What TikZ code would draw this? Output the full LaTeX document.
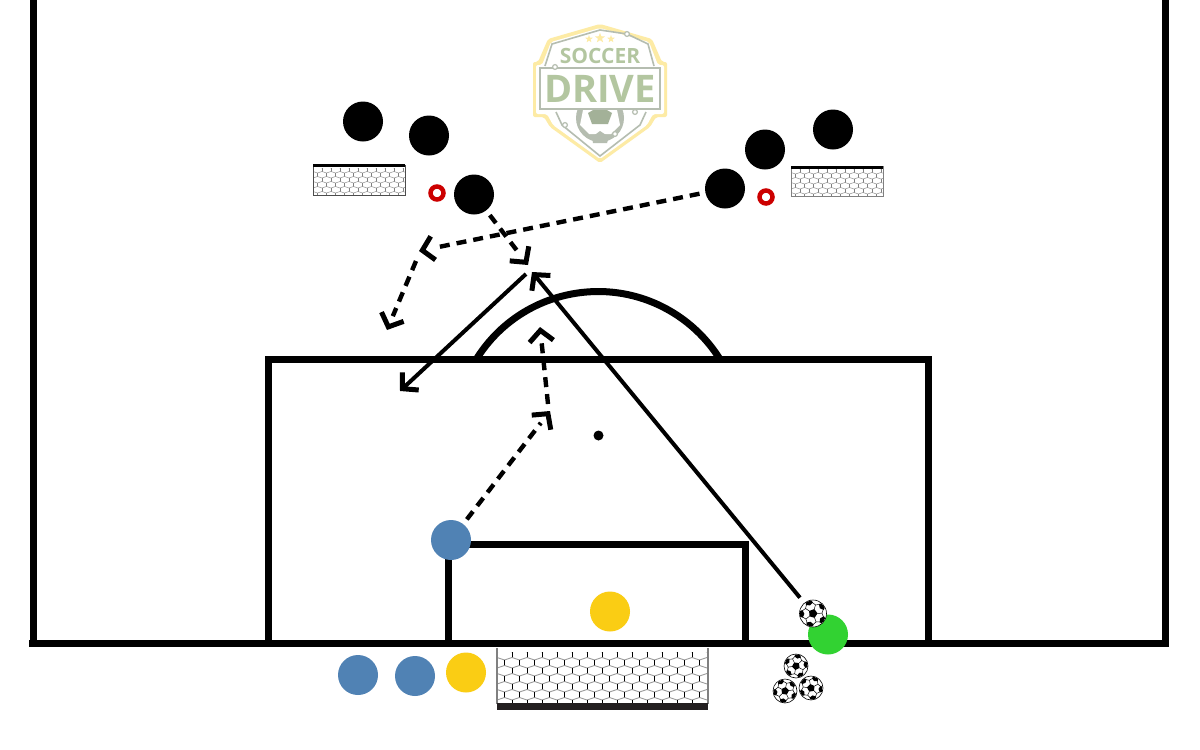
\documentclass[tikz,border=0pt]{standalone}
\usepackage{fontspec}
\setmainfont{Open Sans}
\usetikzlibrary{arrows.meta,shapes.geometric}
\definecolor{playerblue}{HTML}{5082B4}
\definecolor{playeryellow}{HTML}{FACD14}
\definecolor{playergreen}{HTML}{32D232}
\definecolor{conered}{HTML}{CC0000}
\definecolor{logogreen}{HTML}{B3C6A0}
\definecolor{logogray}{HTML}{B5BDB0}
\definecolor{logodark}{HTML}{A3B198}
\definecolor{logoyellow}{HTML}{FDEBA5}
\definecolor{netbar}{HTML}{231F20}
\newcommand{\netmesh}[9]{%x0 y0 x1 y1 px py a width vertical-colour
  \begin{scope}
    \clip (#1,#2) rectangle (#3,#4);
    \pgfmathsetmacro{\nx}{int((#3-#1)/#5)+1}
    \pgfmathsetmacro{\ny}{int((#4-#2)/#6)+1}
    \foreach \r in {0,...,\ny}{
      \foreach \c in {0,...,\nx}{
        \pgfmathsetmacro{\X}{#1+\c*#5-mod(\r,2)*#5/2}
        \pgfmathsetmacro{\Y}{#2+\r*#6}
        \draw[gray!80!white,line width=#8] (\X-#5/2,\Y-#7) -- (\X,\Y) -- (\X+#5/2,\Y-#7);
        \draw[#9,line width=#8] (\X,\Y) -- (\X,\Y+#6-#7);
      }
    }
  \end{scope}}
\newcommand{\dashrun}[2]{%
  \draw[dashline] (#1) -- (#2);
  \path[chevrononly] (#1) -- (#2);}
\tikzset{
  player/.style={circle,minimum size=40,inner sep=0,outer sep=6,fill=#1},
  balldisc/.style={circle,minimum size=#1,inner sep=0,outer sep=7,fill=white,draw=black,line width=.6},
  fieldline/.style={line width=7,black,line cap=butt,line join=miter},
  chevron/.style={-{Straight Barb[length=11,width=24,line width=5,line join=miter,line cap=butt]}},
  solidpass/.style={line width=4,black,chevron},
  dashline/.style={line width=4.4,black,dash pattern=on 10 off 7,shorten >=15},
  chevrononly/.style={draw=black,line width=4,dash pattern=on 0pt off 3000pt,chevron},
  cone/.style={circle,minimum size=13,inner sep=0,draw=conered,line width=4.5,fill=white},
  soccerpattern/.pic={
    \fill[black] (90:4.6) -- (162:4.6) -- (234:4.6) -- (306:4.6) -- (18:4.6) -- cycle;
    \foreach \t in {90,162,234,306,18}{
      \fill[black] (\t+36:8.6) -- (\t+16:11.2) -- (\t+24:13.2) -- (\t+48:13.2) -- (\t+56:11.2) -- cycle;
      \draw[black,line width=.5] (\t:4.6) -- (\t+36-36:9) -- (\t+20:11) (\t:9) -- (\t-20:11);
    }
  }
}
\begin{document}
\begin{tikzpicture}[x=1pt,y=-1pt]
\useasboundingbox (0,0) rectangle (1200,750);
\fill[white] (0,0) rectangle (1200,750);

% logo
\begin{scope}
  \fill[logoyellow,rounded corners=2] (600,24) -- (652,39) -- (662,62) -- (667,62) -- (667,117) -- (656,117) -- (650,127) -- (600,163) -- (550,127) -- (544,117) -- (533,117) -- (533,62) -- (538,62) -- (548,39) -- cycle;
  \fill[white,rounded corners=2] (600,28) -- (649,42) -- (658,65) -- (664,65) -- (664,114) -- (653,114) -- (647,125) -- (600,159) -- (553,125) -- (547,114) -- (536,114) -- (536,65) -- (542,65) -- (551,42) -- cycle;
  \draw[logogray,line width=1.6] (627,34) -- (600,30) -- (552,44) -- (545,66) (654,66) -- (648,44) -- (627,34)
     (556,112) -- (562,125) -- (600,156) -- (640,125) -- (646,112);
  \fill[white] (600,118) circle (26);
  \fill[logogray] (600,118) circle (24);
  \fill[white] (600,104) -- (617,110) -- (620,125) -- (611,134) -- (589,134) -- (580,125) -- (583,110) -- cycle;
  \fill[logodark] (600,106) -- (612,113) -- (608,124) -- (592,124) -- (588,113) -- cycle;
  \fill[logogray] (592,137) -- (600,131) -- (609,137) -- (607,143) -- (593,143) -- cycle;
  \fill[white] (539,67) rectangle (662,110);
  \draw[logogray,line width=1.6] (540,68) rectangle (660,109);
  \foreach \lx/\ly/\ls in {589/39/8,600/38/10.5,611/39/8}
    \node[star,star points=5,star point ratio=2.4,fill=logoyellow,inner sep=0,minimum size=\ls] (logostar\lx) at (\lx,\ly) {};
  \node[text=logogreen,font=\bfseries\fontsize{21}{21}\selectfont,inner sep=0] (logosoccer) at (600,56) {SOCCER};
  \node[text=logogreen,font=\bfseries\fontsize{38}{38}\selectfont,inner sep=0] (logodrive) at (600,89) {DRIVE};
  \foreach \lx/\ly in {627/34,555/67,635/112,565/125,615/134}
    \draw[logogray,fill=white,line width=1.2] (\lx,\ly) circle (2.4);
\end{scope}

% field
\draw[fieldline] (33,0) -- (33,643.6);
\draw[fieldline] (1165,0) -- (1165,643.6);
\draw[fieldline] (29,643.6) -- (1169,643.6);
\draw[fieldline] (268,643.6) -- (268,359.8) -- (928,359.8) -- (928,643.6);
\draw[fieldline] (448.8,643.6) -- (448.8,544.8) -- (745.8,544.8) -- (745.8,643.6);
\draw[fieldline] (476,359.8) arc[start angle=211.6,end angle=328.4,radius=143.4];
\fill[black] (598.5,435.5) circle (5);

% goals
\netmesh{313}{168}{405}{195}{9}{5}{1.5}{.6}{gray}
\draw[black!70,line width=.9] (313,165) -- (313,195.5) -- (405,195.5) -- (405,165);
\draw[black,line width=3.4] (313,165.5) -- (405,165.5);
\netmesh{791}{169}{883}{196}{9}{5}{1.5}{.6}{gray}
\draw[gray,line width=.9] (791,166) -- (791,196.5) -- (883,196.5) -- (883,166);
\draw[black,line width=3.4] (791,167.5) -- (883,167.5);
\netmesh{497}{652}{708}{704}{15}{8}{2.5}{.9}{black}
\draw[gray,line width=1.2] (497,648) -- (497,704) (708,648) -- (708,704);
\fill[netbar] (497,703) rectangle (708,709.5);

% cones
\node[cone] (coneL) at (437,193) {};
\node[cone] (coneR) at (766,197) {};

% players
\node[player=black] (dA) at (363,121.5) {};
\node[player=black] (dB) at (429,135.5) {};
\node[player=black] (dC) at (474,194.5) {};
\node[player=black] (dD) at (765,149.5) {};
\node[player=black] (dE) at (833,129.5) {};
\node[player=black] (dF) at (725,188.5) {};
\node[player=playerblue] (aA) at (451,540) {};
\node[player=playerblue] (aB) at (358,675) {};
\node[player=playerblue] (aC) at (415,676) {};
\node[player=playeryellow] (gA) at (610,611.5) {};
\node[player=playeryellow] (gB) at (466,672.5) {};
\node[player=playergreen] (server) at (828,634.5) {};

% balls
\node[balldisc=27] (ballA) at (813,613.5) {};
\node[balldisc=24] (ballB) at (796,666) {};
\node[balldisc=24] (ballC) at (785,691) {};
\node[balldisc=24] (ballD) at (811,688) {};
\begin{scope}
\clip (ballA) circle (13.2) (ballB) circle (11.8) (ballC) circle (11.8) (ballD) circle (11.8);
\pic[rotate=20,scale=1] at (ballA) {soccerpattern};
\pic[rotate=-10,scale=.88] at (ballB) {soccerpattern};
\pic[rotate=25,scale=.88] at (ballC) {soccerpattern};
\pic[rotate=-25,scale=.88] at (ballD) {soccerpattern};
\end{scope}

% connector ends
\coordinate (run1) at (419,251);
\coordinate (run1s) at (416,261);
\coordinate (run2) at (387,330);
\coordinate (run3) at (528,265);
\coordinate (pass1s) at (526,274);
\coordinate (pass1) at (400,391);
\coordinate (pass2) at (532,272);
\coordinate (run4) at (550,411);
\coordinate (run4s) at (548,404);
\coordinate (run5) at (540,327);

\dashrun{dF}{run1}
\dashrun{run1s}{run2}
\dashrun{dC}{run3}
\draw[solidpass] (pass1s) -- (pass1);
\draw[solidpass] (ballA) -- (pass2);
\dashrun{aA}{run4}
\dashrun{run4s}{run5}
\end{tikzpicture}
\end{document}
